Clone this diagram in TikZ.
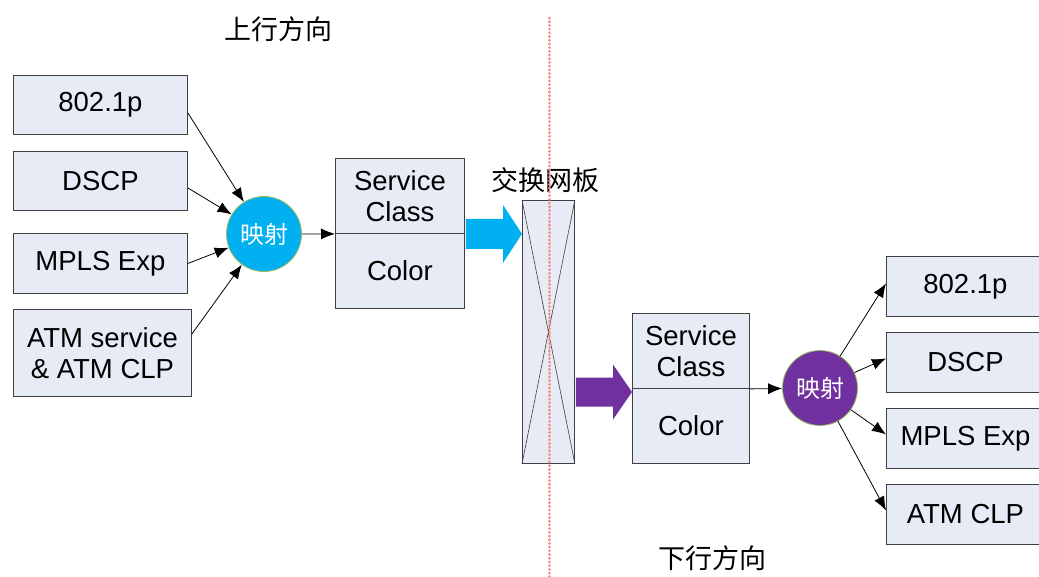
\documentclass[tikz,border=0pt]{standalone}
\usepackage{fontspec}
\setmainfont{Liberation Sans}
\newfontfamily\cjk{Noto Sans CJK SC}
\usetikzlibrary{arrows.meta,calc}
\definecolor{boxfill}{HTML}{E6EBF6}
\definecolor{boxline}{HTML}{404040}
\definecolor{cyanc}{HTML}{00B0F0}
\definecolor{purc}{HTML}{7030A0}
\definecolor{ringc}{HTML}{9BBB59}
\definecolor{dotc}{HTML}{FF8A8A}
\tikzset{
  box/.style={draw=boxline, fill=boxfill, line width=0.9pt, inner sep=0pt, anchor=north west,
    align=center, font=\fontsize{27.5}{31}\selectfont},
  mapc/.style={circle, draw=ringc, line width=0.8pt, minimum size=75pt, inner sep=0pt,
    text=white, font=\cjk\fontsize{24}{26}\selectfont},
  arr/.style={-{Latex[length=14pt,width=11pt]}, line width=0.8pt, black},
  lbl/.style={font=\cjk\fontsize{27}{30}\selectfont, inner sep=0pt},
  dotline/.style={dotc, line width=3pt, line cap=round, dash pattern=on 0.1pt off 3.6pt}
}
\begin{document}
\begin{tikzpicture}[x=1pt,y=-1pt]
\useasboundingbox (0,0) rectangle (1039,577);
\clip (0,0) rectangle (1039,577);
% left boxes
\node[box, minimum width=174pt, minimum height=59pt] (l1) at (13,75) {802.1p};
\node[box, minimum width=174pt, minimum height=59pt] (l2) at (13,151) {DSCP};
\node[box, minimum width=174pt, minimum height=60pt] (l3) at (13,233) {MPLS Exp};
\node[box, minimum width=178pt, minimum height=87pt] (l4) at (13,309) {ATM service\\\& ATM CLP};
% mapping circle 1
\node[mapc, fill=cyanc] (m1) at (264,234) {映射};
\draw[arr] ([yshift=-8pt]l1.east) -- (m1);
\draw[arr] ([yshift=-7pt]l2.east) -- (m1);
\draw[arr] (l3.east) -- (m1);
\draw[arr] ([yshift=19pt]l4.east) -- (m1);
% service class box 1
\node[box, minimum width=129pt, minimum height=75pt] (s1t) at (335,158) {Service\\Class};
\node[box, minimum width=129pt, minimum height=75pt] (s1b) at (335,233) {Color};
\draw[arr] (m1) -- (s1t.south west);
% switch board
\node[box, minimum width=52pt, minimum height=263pt] (sw) at (522,200) {};
\draw[boxline, line width=0.6pt] (sw.north west) -- (sw.south east) (sw.north east) -- (sw.south west);
\node[lbl] (swl) at (545,180) {交换网板};
% cyan fat arrow
\coordinate (ca) at (s1t.south east);
\coordinate (cb) at (ca -| sw.west);
\fill[cyanc] ($(ca)+(1,-15)$) -- ($(cb)+(-19,-15)$) -- ($(cb)+(-19,-29)$) -- (cb)
  -- ($(cb)+(-19,29)$) -- ($(cb)+(-19,15)$) -- ($(ca)+(1,15)$) -- cycle;
% service class box 2
\node[box, minimum width=117pt, minimum height=75pt] (s2t) at (632,313) {Service\\Class};
\node[box, minimum width=117pt, minimum height=75pt] (s2b) at (632,388) {Color};
% purple fat arrow
\coordinate (pb) at ($(s2b.north west)+(0,4)$);
\coordinate (pa) at (pb -| sw.east);
\fill[purc] ($(pa)+(1,-14.5)$) -- ($(pb)+(-19,-14.5)$) -- ($(pb)+(-19,-27.5)$) -- (pb)
  -- ($(pb)+(-19,27.5)$) -- ($(pb)+(-19,14.5)$) -- ($(pa)+(1,14.5)$) -- cycle;
% mapping circle 2
\node[mapc, fill=purc] (m2) at (820,388) {映射};
\draw[arr] (s2t.south east) -- (m2);
% right boxes
\node[box, minimum width=158pt, minimum height=60pt] (r1) at (886,256) {802.1p};
\node[box, minimum width=158pt, minimum height=60pt] (r2) at (886,332) {DSCP};
\node[box, minimum width=158pt, minimum height=60pt] (r3) at (886,408) {MPLS Exp};
\node[box, minimum width=158pt, minimum height=60pt] (r4) at (886,484) {ATM CLP};
\draw[arr] (m2) -- ([yshift=3pt]r1.west);
\draw[arr] (m2) -- ([yshift=4pt]r2.west);
\draw[arr] (m2) -- ([yshift=4pt]r3.west);
\draw[arr] (m2) -- ([yshift=4pt]r4.west);
% dotted divider
\coordinate (dtop) at (549,18);
\coordinate (dbot) at (549,577);
\draw[dotline] (dtop) -- (dbot);
% direction labels
\node[lbl] (up) at (278,29) {上行方向};
\node[lbl] (down) at (712,558) {下行方向};
\end{tikzpicture}
\end{document}
